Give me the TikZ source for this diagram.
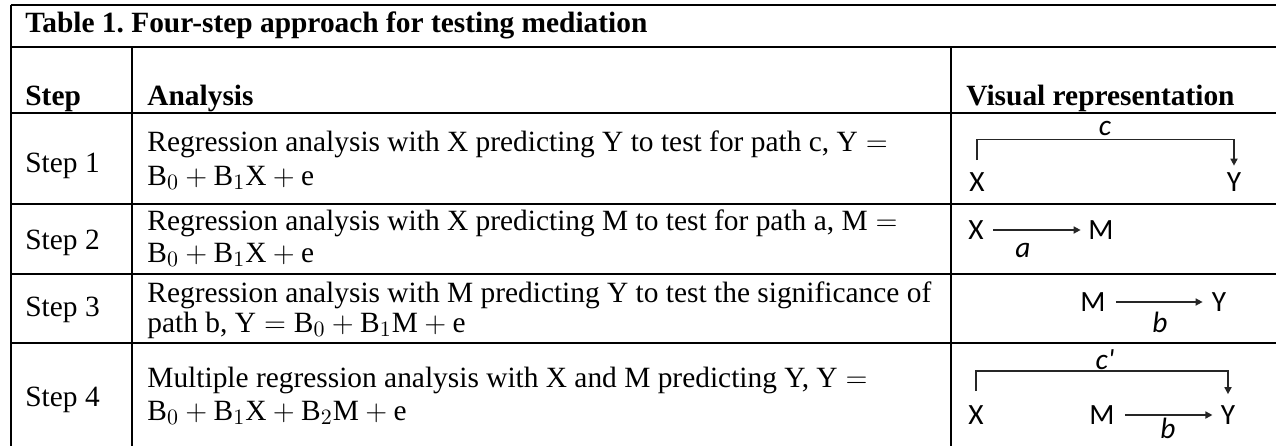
\documentclass[tikz,border=0pt]{standalone}
\usepackage{fontspec}
\setmainfont{Liberation Serif}
\newfontfamily\diagfont{Carlito}
\usetikzlibrary{arrows.meta}
\DeclareMathSizes{14.7}{14.7}{11}{8}
\frenchspacing
\begin{document}
\begin{tikzpicture}[x=0.5pt,y=-0.5pt,
  rule/.style={line width=1pt},
  body/.style={anchor=base west, inner sep=0pt, font=\fontsize{14.7}{17}\selectfont},
  head/.style={body, font=\fontsize{14.7}{17}\selectfont\bfseries},
  var/.style={inner sep=0pt, font=\diagfont\fontsize{14.7}{17}\selectfont},
  lbl/.style={inner sep=0pt, font=\diagfont\itshape\fontsize{14.7}{17}\selectfont},
  link/.style={line width=0.8pt, draw=black!85, -{Triangle[length=3.5pt,width=3.5pt]}},
]
\useasboundingbox (0,0) rectangle (1276,446);
% table rules
\draw[rule] (10.5,5) -- (1276,5);
\draw[rule] (10.5,5) -- (10.5,446);
\foreach \yy in {47,113,204,274,343} \draw[rule] (10.5,\yy) -- (1276,\yy);
\draw[rule] (132,47) -- (132,446);
\draw[rule] (951,47) -- (951,446);
% title and header
\node[head] (title) at (25,32) {Table 1. Four-step approach for testing mediation};
\node[head] (hstep) at (25,105) {Step};
\node[head] (hana) at (147,105) {Analysis};
\node[head] (hvis) at (966,105) {Visual representation};
% step labels
\node[body] (s1) at (25,172) {Step 1};
\node[body] (s2) at (25,249) {Step 2};
\node[body] (s3) at (25,316) {Step 3};
\node[body] (s4) at (25,406) {Step 4};
% analysis text
\node[body] (a1a) at (147,151) {Regression analysis with X predicting Y to test for path c, $\mathrm{Y}=$};
\node[body] (a1b) at (147,185) {$\mathrm{B}_0+\mathrm{B}_1\mathrm{X}+\mathrm{e}$};
\node[body] (a2a) at (147,230) {Regression analysis with X predicting M to test for path a, $\mathrm{M}=$};
\node[body] (a2b) at (147,262) {$\mathrm{B}_0+\mathrm{B}_1\mathrm{X}+\mathrm{e}$};
\node[body] (a3a) at (147,302) {Regression analysis with M predicting Y to test the significance of};
\node[body] (a3b) at (147,332) {path b, $\mathrm{Y}=\mathrm{B}_0+\mathrm{B}_1\mathrm{M}+\mathrm{e}$};
\node[body] (a4a) at (147,387) {Multiple regression analysis with X and M predicting Y, $\mathrm{Y}=$};
\node[body] (a4b) at (147,420) {$\mathrm{B}_0+\mathrm{B}_1\mathrm{X}+\mathrm{B}_2\mathrm{M}+\mathrm{e}$};
% step 1 diagram
\node[var] (X1) at (977,182) {X};
\node[var] (Y1) at (1234,182) {Y};
\node[lbl] (c1) at (1105,128) {c};
\draw[link] ([yshift=6pt]X1.north) -- ([yshift=16.25pt]X1.north) -| ([yshift=3.25pt]Y1.north);
% step 2 diagram
\node[var] (X2) at (976,230) {X};
\node[var] (M2) at (1101,230) {M};
\node[lbl] (a2) at (1023,250) {a};
\draw[link, shorten <=4.5pt, shorten >=3.7pt] (X2) -- (M2);
% step 3 diagram
\node[var] (M3) at (1093,302) {M};
\node[var] (Y3) at (1219,302) {Y};
\node[lbl] (b3) at (1160,322) {b};
\draw[link, shorten <=5pt, shorten >=4.4pt] (M3) -- (Y3);
% step 4 diagram
\node[var] (X4) at (976,415) {X};
\node[var] (M4) at (1102,415) {M};
\node[var] (Y4) at (1228,415) {Y};
\node[lbl] (c4) at (1105,360) {c\textquotesingle};
\node[lbl] (b4) at (1168,428) {b};
\draw[link] ([yshift=7pt]X4.north) -- ([yshift=17pt]X4.north) -| ([yshift=5.5pt]Y4.north);
\draw[link, shorten <=5pt, shorten >=4pt] (M4) -- (Y4);
\end{tikzpicture}
\end{document}
